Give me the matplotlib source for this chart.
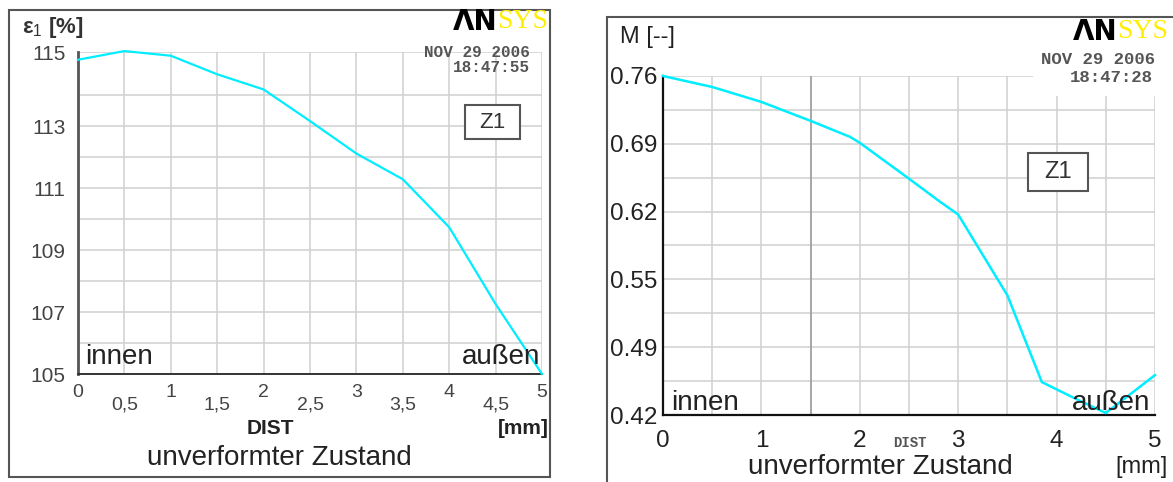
import matplotlib.pyplot as plt
import matplotlib.patches as mpatches
import numpy as np

plt.rcParams['font.family'] = ['Liberation Sans', 'DejaVu Sans']
plt.rcParams['mathtext.fontset'] = 'custom'
plt.rcParams['mathtext.rm'] = 'Liberation Sans'
plt.rcParams['mathtext.it'] = 'Liberation Sans'

# left chart: principal strain eps1 along the path
dist_l = [0, 0.5, 1, 1.5, 2, 2.5, 3, 3.5, 4, 4.5, 5]
eps1 = [115.15, 115.43, 115.28, 114.68, 114.19, 113.17, 112.12, 111.29, 109.74, 107.26, 105.0]
eps_top = 115.4
eps_ticks = [105, 107, 109, 111, 113, eps_top]
eps_labels = ['105', '107', '109', '111', '113', '115']
xl_major = ['0', '1', '2', '3', '4', '5']
xl_minor = ['0,5', '1,5', '2,5', '3,5', '4,5']

# right chart: M along the path
dist_r = [0, 0.5, 1, 1.5, 1.9, 2, 2.5, 2.8, 3, 3.5, 3.85, 4.2, 4.5, 5]
m_val = [0.760, 0.749, 0.734, 0.715, 0.699, 0.693, 0.657, 0.635, 0.621, 0.540, 0.453, 0.436, 0.422, 0.460]
m_ticks = list(np.linspace(0.42, 0.76, 6))
m_labels = ['0.42', '0.49', '0.55', '0.62', '0.69', '0.76']
xr_labels = ['0', '1', '2', '3', '4', '5']

W, H = 1173, 482
CYAN = '#00eeff'
GRID = '#d0d0d0'

def fx(p):
    return p / W

def fy(p):
    return 1 - p / H

fig = plt.figure(figsize=(W / 100, H / 100), dpi=100)

# ---------- left ----------
axL = fig.add_axes([fx(78), fy(374), (542 - 78) / W, (374 - 52) / H])
axL.plot(dist_l, eps1, color=CYAN, lw=1.6, clip_on=False, zorder=3)
axL.set_xlim(0, 5)
axL.set_ylim(105, eps_top)
axL.set_yticks(eps_ticks)
axL.set_yticklabels(eps_labels)
axL.set_yticks(np.arange(106, 115, 2), minor=True)
axL.set_xticks(range(6))
axL.set_xticklabels(xl_major)
axL.set_xticks(np.arange(0.5, 5, 1), minor=True)
axL.set_xticklabels(xl_minor, minor=True)
axL.tick_params(axis='both', which='both', length=0, labelsize=14, labelcolor='#444')
axL.tick_params(axis='y', which='both', pad=9, labelsize=15)
axL.tick_params(axis='x', which='major', pad=7)
axL.tick_params(axis='x', which='minor', pad=16)
axL.grid(True, which='both', color=GRID, lw=1.1)
axL.set_axisbelow(True)
for s in ['top', 'right']:
    axL.spines[s].set_visible(False)
axL.spines['left'].set_color('#555')
axL.spines['left'].set_linewidth(2)
axL.spines['bottom'].set_color('#333')
axL.spines['bottom'].set_linewidth(1.4)

fig.add_artist(mpatches.Rectangle((fx(9), fy(477)), (550 - 9) / W, (477 - 10) / H,
                                  transform=fig.transFigure, fill=False, ec='#555', lw=1.5))

fig.text(fx(22), fy(27), 'ε$_1$ [%]', fontsize=16, fontweight='bold', color='#333', va='center')
fig.text(fx(497), fy(22), 'ΛN', family='DejaVu Sans', fontweight='bold', fontsize=20,
         ha='right', va='center', color='black')
fig.text(fx(497), fy(22), 'SYS', family='Liberation Serif', fontsize=20,
         ha='left', va='center', color='#ffee00')
fig.text(fx(530), fy(52), 'NOV 29 2006', family='Liberation Mono', fontsize=11.5,
         fontweight='bold', color='#555', ha='right', va='center')
fig.text(fx(530), fy(68), '18:47:55', family='Liberation Mono', fontsize=11.5,
         fontweight='bold', color='#555', ha='right', va='center')
fig.add_artist(mpatches.Rectangle((fx(465), fy(139)), 55 / W, 34 / H, transform=fig.transFigure,
                                  fill=True, fc='white', ec='#555', lw=1.5, zorder=2))
fig.text(fx(492), fy(122), 'Z1', fontsize=16, color='#333', ha='center', va='center', zorder=3)
fig.text(fx(85), fy(357), 'innen', fontsize=20, color='#222', ha='left', va='center')
fig.text(fx(540), fy(357), 'außen', fontsize=20, color='#222', ha='right', va='center')
fig.text(fx(270), fy(428), 'DIST', fontsize=15, fontweight='bold', color='#222', ha='center', va='center')
fig.text(fx(549), fy(428), '[mm]', fontsize=15, fontweight='bold', color='#222', ha='right', va='center')
fig.text(fx(279), fy(458), 'unverformter Zustand', fontsize=20, color='#222', ha='center', va='center')

# ---------- right ----------
axR = fig.add_axes([fx(663), fy(415), (1155 - 663) / W, (415 - 76) / H])
axR.plot(dist_r, m_val, color=CYAN, lw=1.8, clip_on=False, zorder=3)
axR.set_xlim(0, 5)
axR.set_ylim(0.42, 0.76)
axR.set_yticks(m_ticks)
axR.set_yticklabels(m_labels)
axR.set_yticks(np.array(m_ticks[:-1]) + 0.034, minor=True)
axR.set_xticks(range(6))
axR.set_xticklabels(xr_labels)
axR.set_xticks(np.arange(0.5, 5, 1), minor=True)
axR.tick_params(axis='both', which='both', length=0, labelsize=17.5, labelcolor='#222')
axR.tick_params(axis='y', which='both', pad=4)
axR.tick_params(axis='x', which='major', pad=11)
axR.grid(True, which='both', color=GRID, lw=1.1)
axR.set_axisbelow(True)
axR.axvline(1.5, color='#999', lw=1.1, zorder=1)
for s in ['top', 'right']:
    axR.spines[s].set_visible(False)
for s in ['left', 'bottom']:
    axR.spines[s].set_color('#111')
    axR.spines[s].set_linewidth(1.6)

# white area behind the date stamp hides the grid there
fig.add_artist(mpatches.Rectangle((fx(1033), fy(96)), (W - 1033) / W, (96 - 40) / H,
                                  transform=fig.transFigure, fc='white', ec='none', zorder=1))
fig.add_artist(mpatches.Rectangle((fx(607), fy(H + 5)), (W - 607 + 5) / W, (H + 5 - 17) / H,
                                  transform=fig.transFigure, fill=False, ec='#555', lw=1.5))

fig.text(fx(620), fy(37), 'M [--]', fontsize=17, color='#222', va='center')
fig.text(fx(1117), fy(32), 'ΛN', family='DejaVu Sans', fontweight='bold', fontsize=20,
         ha='right', va='center', color='black')
fig.text(fx(1117), fy(32), 'SYS', family='Liberation Serif', fontsize=20,
         ha='left', va='center', color='#ffee00')
fig.text(fx(1155), fy(60), 'NOV 29 2006', family='Liberation Mono', fontsize=12.5,
         fontweight='bold', color='#555', ha='right', va='center')
fig.text(fx(1153), fy(78), '18:47:28', family='Liberation Mono', fontsize=12.5,
         fontweight='bold', color='#555', ha='right', va='center')
fig.add_artist(mpatches.Rectangle((fx(1028), fy(191)), 60 / W, 38 / H, transform=fig.transFigure,
                                  fill=True, fc='white', ec='#555', lw=1.5, zorder=2))
fig.text(fx(1058), fy(172), 'Z1', fontsize=17, color='#333', ha='center', va='center', zorder=3)
fig.text(fx(671), fy(403), 'innen', fontsize=20, color='#222', ha='left', va='center')
fig.text(fx(1150), fy(403), 'außen', fontsize=20, color='#222', ha='right', va='center')
fig.text(fx(910), fy(443), 'DIST', family='Liberation Mono', fontsize=10, fontweight='bold',
         color='#555', ha='center', va='center')
fig.text(fx(880), fy(467), 'unverformter Zustand', fontsize=20, color='#222', ha='center', va='center')
fig.text(fx(1168), fy(467), '[mm]', fontsize=17, color='#222', ha='right', va='center')

fig.savefig('out.png', dpi=100, facecolor='white')
